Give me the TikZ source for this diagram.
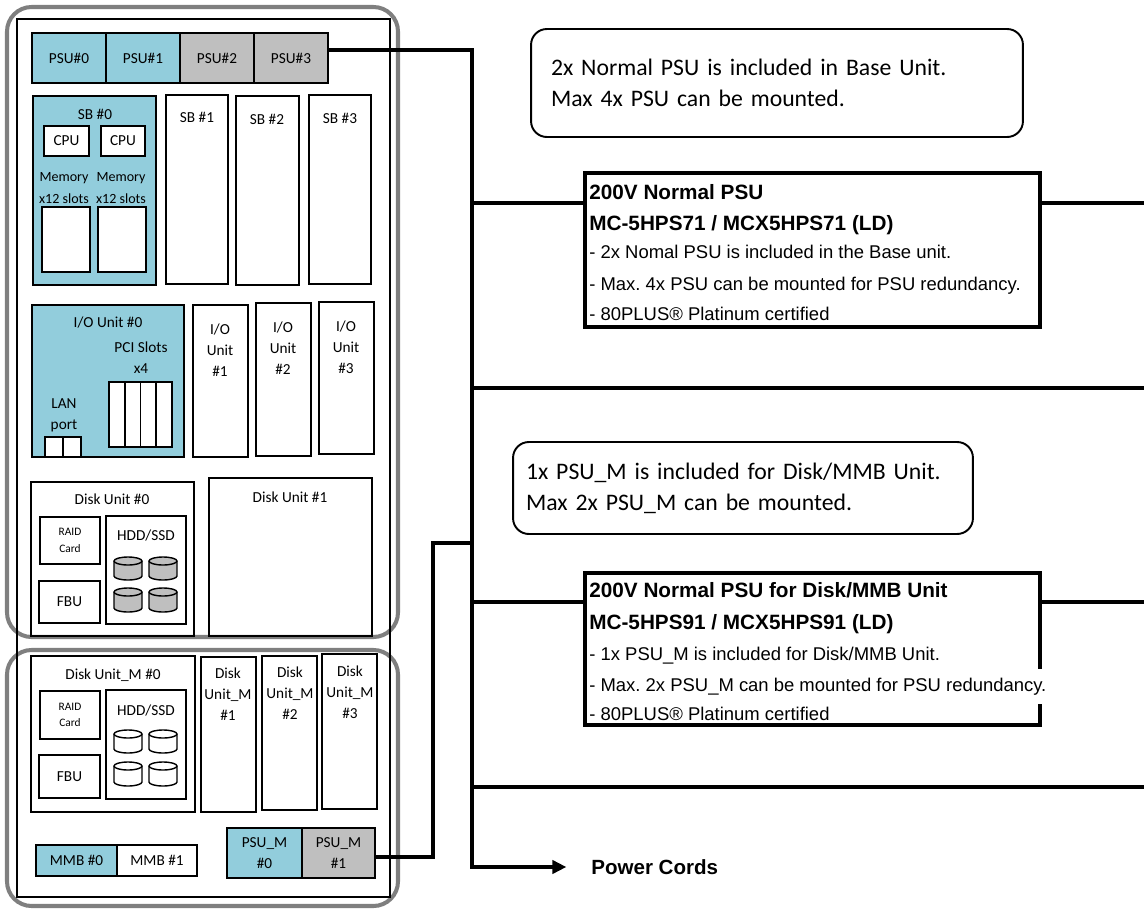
\documentclass[tikz,border=0pt]{standalone}
\usepackage{fontspec}
\setmainfont{Carlito}
\newfontfamily\arialfont{Liberation Sans}
\frenchspacing
\usetikzlibrary{arrows.meta,positioning,fit}

\definecolor{unitblue}{HTML}{92CDDC}
\definecolor{unitgray}{HTML}{BFBFBF}
\definecolor{framegray}{HTML}{7F7F7F}

\tikzset{
  unit/.style={draw, line width=0.9pt, inner sep=0pt},
  lbl/.style={inner sep=0pt, align=center, font=\fontsize{8.7}{12}\selectfont},
  tiny/.style={font=\fontsize{6.5}{9.5}\selectfont},
  narrow/.style={font=\fontsize{8}{12}\selectfont},
  frame/.style={draw=framegray, line width=2.3pt, rounded corners=14pt, inner sep=0pt},
  bus/.style={line width=2pt},
  note/.style={draw, rounded corners=9pt, line width=1.1pt, align=left, font=\fontsize{13.5}{17.6}\selectfont},
  specbox/.style={draw, fill=white, line width=1.8pt, inner sep=0pt},
  spechead/.style={anchor=base west, inner sep=0pt, font=\arialfont\bfseries\fontsize{11.8}{13}\selectfont},
  specline/.style={anchor=base west, inner sep=0pt, font=\arialfont\fontsize{10.5}{12}\selectfont},
}

\begin{document}
\begin{tikzpicture}[x=0.02cm, y=-0.02cm]
        \useasboundingbox (0,0) rectangle (1144,910);

        % Chassis with base unit and disk/MMB frames
        \node[frame, fit={(7,7) (398,637)}] (baseframe) {};
        \node[frame, fit={(7,650) (398,906)}] (mmbframe) {};
        \node[draw, line width=1.5pt, inner sep=0pt, fit={(17,19) (390,897)}] (chassis) {};

        % Power supply units
        \node[unit, fill=unitblue, fit={(32,33) (106,83)}, label={[lbl]center:PSU\#0}] (psu0) {};
        \node[unit, fill=unitblue, fit={(106,33) (180,83)}, label={[lbl]center:PSU\#1}] (psu1) {};
        \node[unit, fill=unitgray, fit={(180,33) (254,83)}, label={[lbl]center:PSU\#2}] (psu2) {};
        \node[unit, fill=unitgray, fit={(254,33) (328,83)}, label={[lbl]center:PSU\#3}] (psu3) {};

        % System boards
        \node[unit, fill=unitblue, fit={(33,96) (156,285)}] (sb0) {};
        \node[lbl] (sb0name) at (95,114) {SB \#0};
        \node[unit, fill=white, fit={(44,126) (89,156)}, label={[lbl]center:CPU}] (cpu0) {};
        \node[unit, fill=white, fit={(101,126) (145,156)}, label={[lbl]center:CPU}] (cpu1) {};
        \node[lbl, narrow] (mem0name) at (64,188) {Memory\\x12 slots};
        \node[lbl, narrow] (mem1name) at (121,188) {Memory\\x12 slots};
        \node[unit, fill=white, fit={(42,207) (90,272)}] (mem0) {};
        \node[unit, fill=white, fit={(98,207) (146,272)}] (mem1) {};
        \node[unit, fit={(166,95) (228,284)}] (sb1) {};
        \node[lbl] (sb1name) at (197,117) {SB \#1};
        \node[unit, fit={(236,96) (299,285)}] (sb2) {};
        \node[lbl] (sb2name) at (267,119) {SB \#2};
        \node[unit, fit={(309,95) (371,284)}] (sb3) {};
        \node[lbl] (sb3name) at (340,118) {SB \#3};

        % I/O units
        \node[unit, fill=unitblue, fit={(32,305) (184,457)}] (io0) {};
        \node[lbl] (io0name) at (108,323) {I/O Unit \#0};
        \node[lbl] (pciname) at (141,358) {PCI Slots\\x4};
        \foreach \i in {0,...,3}
            \draw[line width=0.9pt, fill=white] (109+\i*15.75,382) rectangle (124.75+\i*15.75,447);
        \node[lbl] (lanname) at (64,415) {LAN\\port};
        \draw[line width=0.9pt, fill=white] (45,437) rectangle (63,457);
        \draw[line width=0.9pt, fill=white] (63,437) rectangle (81,457);
        \node[unit, fit={(193,305) (248,457)}] (io1) {};
        \node[lbl] (io1name) at (220,350) {I/O\\Unit\\\#1};
        \node[unit, fit={(256,303) (311,456)}] (io2) {};
        \node[lbl] (io2name) at (283,348) {I/O\\Unit\\\#2};
        \node[unit, fit={(319,302) (374,454)}] (io3) {};
        \node[lbl] (io3name) at (346,347) {I/O\\Unit\\\#3};

        % Disk units
        \node[unit, fit={(31,482) (194,636)}] (disk0) {};
        \node[lbl] (disk0name) at (112,499) {Disk Unit \#0};
        \node[unit, fit={(40,517) (100,564)}, label={[lbl, tiny]center:RAID\\Card}] (raid0) {};
        \node[unit, fit={(39,581) (100,623)}, label={[lbl]center:FBU}] (fbu0) {};
        \node[unit, fit={(106,516) (186,624)}] (hdd0) {};
        \node[lbl] (hdd0name) at (146,536) {HDD/SSD};
        \foreach \cx in {128,163}
            \foreach \ty/\by in {561/576, 592/608} {
                \filldraw[fill=unitgray, line width=0.8pt] (\cx-14,\ty) -- (\cx-14,\by)
                    arc[start angle=180, end angle=360, x radius=0.28cm, y radius=0.08cm] -- (\cx+14,\ty)
                    arc[start angle=0, end angle=180, x radius=0.28cm, y radius=0.08cm] -- cycle;
                \draw[line width=0.8pt] (\cx-14,\ty) arc[start angle=180, end angle=360, x radius=0.28cm, y radius=0.08cm];
            }
        \node[unit, fit={(209,478) (372,636)}] (disk1) {};
        \node[lbl] (disk1name) at (290,497) {Disk Unit \#1};

        % Disk/MMB section
        \node[unit, fit={(31,656) (195,812)}] (diskm0) {};
        \node[lbl] (diskm0name) at (113,675) {Disk Unit\_M \#0};
        \node[unit, fit={(40,691) (100,739)}, label={[lbl, tiny]center:RAID\\Card}] (raidm) {};
        \node[unit, fit={(39,755) (100,798)}, label={[lbl]center:FBU}] (fbum) {};
        \node[unit, fit={(106,690) (186,799)}] (hddm) {};
        \node[lbl] (hddmname) at (146,711) {HDD/SSD};
        \foreach \cx in {128,163}
            \foreach \ty/\by in {734/749, 766/782} {
                \filldraw[fill=white, line width=0.8pt] (\cx-14,\ty) -- (\cx-14,\by)
                    arc[start angle=180, end angle=360, x radius=0.28cm, y radius=0.08cm] -- (\cx+14,\ty)
                    arc[start angle=0, end angle=180, x radius=0.28cm, y radius=0.08cm] -- cycle;
                \draw[line width=0.8pt] (\cx-14,\ty) arc[start angle=180, end angle=360, x radius=0.28cm, y radius=0.08cm];
            }
        \node[unit, fit={(201,657) (256,812)}] (diskm1) {};
        \node[lbl] (diskm1name) at (228,694) {Disk\\Unit\_M\\\#1};
        \node[unit, fit={(262,656) (317,810)}] (diskm2) {};
        \node[lbl] (diskm2name) at (290,693) {Disk\\Unit\_M\\\#2};
        \node[unit, fit={(322,654) (377,809)}] (diskm3) {};
        \node[lbl] (diskm3name) at (350,692) {Disk\\Unit\_M\\\#3};
        \node[unit, fill=unitblue, fit={(36,845) (117,876)}, label={[lbl]center:MMB \#0}] (mmb0) {};
        \node[unit, fill=white, fit={(117,845) (197,876)}, label={[lbl]center:MMB \#1}] (mmb1) {};
        \node[unit, fill=unitblue, fit={(227,828) (302,878)}, label={[lbl]center:PSU\_M\\\#0}] (psum0) {};
        \node[unit, fill=unitgray, fit={(302,828) (375,878)}, label={[lbl]center:PSU\_M\\\#1}] (psum1) {};

        % Notes and spec boxes
        \node[note, text width=9.04cm, inner xsep=0.4cm, minimum height=2.16cm] (psunote) at (777,83)
            {2x Normal PSU is included in Base Unit.\\Max 4x PSU can be mounted.};
        \node[note, text width=8.68cm, inner xsep=0.26cm, minimum height=1.84cm] (psumnote) at (743,488)
            {1x PSU\_M is included for Disk/MMB Unit.\\Max 2x PSU\_M can be mounted.};
        \node[specbox, fit={(585,173) (1040,327)}] (psuspec) {};
        \node[specbox, fit={(585,573) (1040,725)}] (psumspec) {};

        % Power cord bus
        \coordinate (tapA) at (472,50);
        \coordinate (tapB) at (472,867);
        \coordinate (j1) at (472,203);
        \coordinate (e1) at (1144,203);
        \coordinate (j2) at (472,388);
        \coordinate (e2) at (1144,388);
        \coordinate (j3) at (472,602);
        \coordinate (e3) at (1144,602);
        \coordinate (j4) at (472,787);
        \coordinate (e4) at (1144,787);
        \coordinate (mA) at (433,857);
        \coordinate (mB) at (433,543);
        \coordinate (mC) at (472,543);
        \node[anchor=west, inner sep=0pt, font=\arialfont\bfseries\fontsize{11.7}{13}\selectfont] (cords) at (591,867) {Power Cords};
        \draw[bus, -{Triangle[length=8pt, width=7.5pt]}, shorten >=14pt] (psu3.east |- tapA) -- (tapA) -- (tapB) -- (cords.west);
        \draw[bus] (j1) -- (j1 -| psuspec.west);
        \draw[bus] (j1 -| psuspec.east) -- (e1);
        \draw[bus] (j2) -- (e2);
        \draw[bus] (j3) -- (j3 -| psumspec.west);
        \draw[bus] (j3 -| psumspec.east) -- (e3);
        \draw[bus] (j4) -- (e4);
        \draw[bus] (psum1.east |- mA) -- (mA) -- (mB) -- (mC);

        % Spec texts
        \node[spechead] (psuttl) at (589,199) {200V Normal PSU};
        \node[spechead] (psumodel) at (589,230) {MC-5HPS71 / MCX5HPS71 (LD)};
        \node[specline] (psuinfo1) at (589,258) {- 2x Nomal PSU is included in the Base unit.};
        \node[specline] (psuinfo2) at (589,290) {- Max. 4x PSU can be mounted for PSU redundancy.};
        \node[specline] (psuinfo3) at (589,320) {- 80PLUS® Platinum certified};
        \node[spechead] (psumttl) at (589,597) {200V Normal PSU for Disk/MMB Unit};
        \node[spechead] (psummodel) at (589,629) {MC-5HPS91 / MCX5HPS91 (LD)};
        \node[specline] (psuminfo1) at (589,660) {- 1x PSU\_M is included for Disk/MMB Unit.};
        \node[specline, fill=white, inner ysep=5pt] (psuminfo2) at (589,691) {- Max. 2x PSU\_M can be mounted for PSU redundancy.\kern4pt};
        \node[specline] (psuminfo3) at (589,720) {- 80PLUS® Platinum certified};
    \end{tikzpicture}
\end{document}
